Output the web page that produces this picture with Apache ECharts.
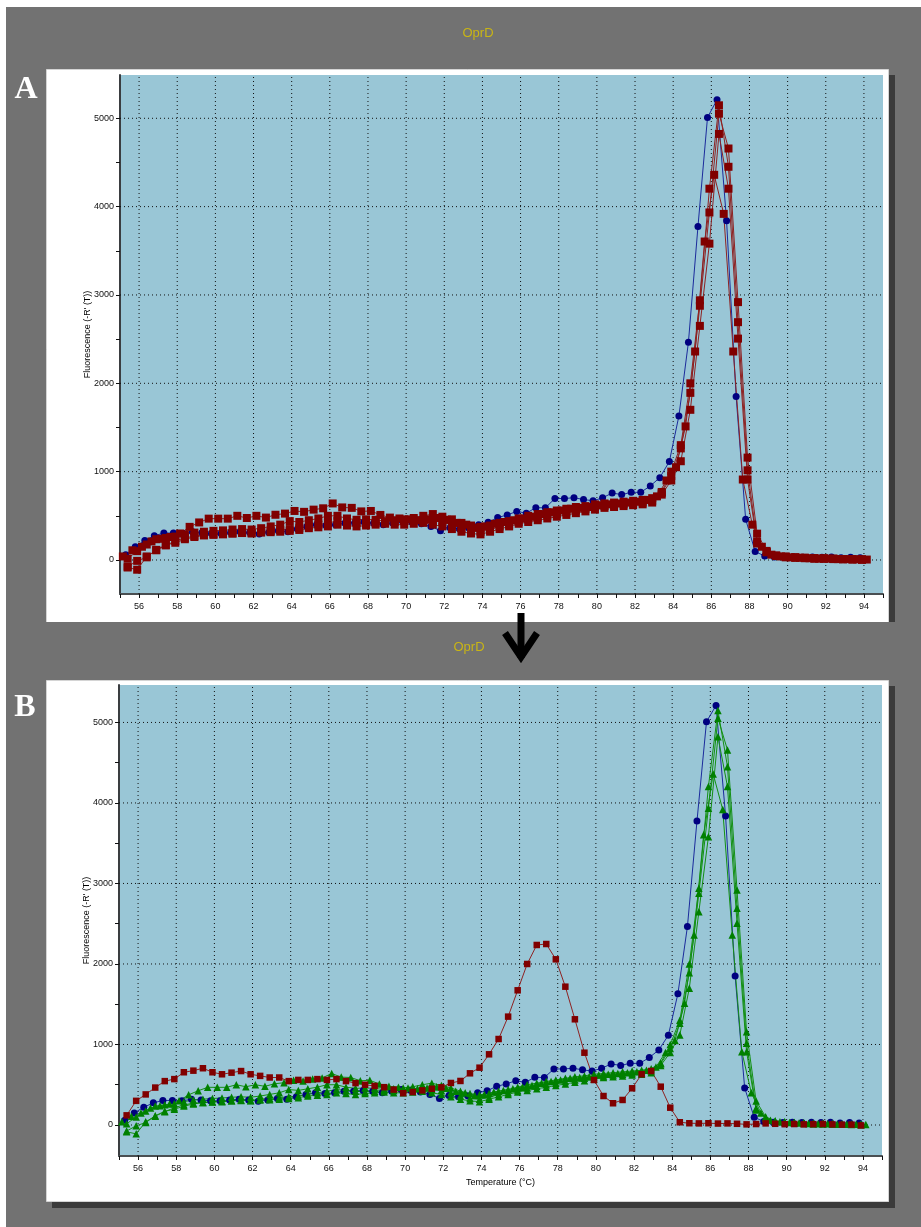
<!DOCTYPE html>
<html>
<head>
<meta charset="utf-8">
<script src="https://cdn.jsdelivr.net/npm/echarts@6/dist/echarts.min.js"></script>
<style>
  html, body { margin: 0; padding: 0; background: #727272; }
  #c { width: 921px; height: 1227px; }
</style>
</head>
<body>
<div id="c"></div>
<script>
// Melt-curve temperature readings (°C) for the three well groups
const tempsP = [55.3,55.8,56.3,56.8,57.3,57.8,58.3,58.8,59.3,59.8,
  60.3,60.8,61.3,61.8,62.3,62.8,63.3,63.8,64.3,64.8,
  65.3,65.8,66.3,66.8,67.3,67.8,68.3,68.8,69.3,69.8,
  70.3,70.8,71.3,71.8,72.3,72.8,73.3,73.8,74.3,74.8,
  75.3,75.8,76.3,76.8,77.3,77.8,78.3,78.8,79.3,79.8,
  80.3,80.8,81.3,81.8,82.3,82.8,83.3,83.8,84.3,84.8,
  85.3,85.8,86.3,86.8,87.3,87.8,88.3,88.8,89.3,89.8,
  90.3,90.8,91.3,91.8,92.3,92.8,93.3,93.8];
const tempsR = [55.4,55.9,56.4,56.9,57.4,57.9,58.4,58.9,59.4,59.9,
  60.4,60.9,61.4,61.9,62.4,62.9,63.4,63.9,64.4,64.9,
  65.4,65.9,66.4,66.9,67.4,67.9,68.4,68.9,69.4,69.9,
  70.4,70.9,71.4,71.9,72.4,72.9,73.4,73.9,74.4,74.9,
  75.4,75.9,76.4,76.9,77.4,77.9,78.4,78.9,79.4,79.9,
  80.4,80.9,81.4,81.9,82.4,82.9,83.4,83.9,84.4,84.9,
  85.4,85.9,86.4,86.9,87.4,87.9,88.4,88.9,89.4,89.9,
  90.4,90.9,91.4,91.9,92.4,92.9,93.4,93.9];
const tempsQ = [55.15,55.65,56.15,56.65,57.15,57.65,58.15,58.65,59.15,59.65,
  60.15,60.65,61.15,61.65,62.15,62.65,63.15,63.65,64.15,64.65,
  65.15,65.65,66.15,66.65,67.15,67.65,68.15,68.65,69.15,69.65,
  70.15,70.65,71.15,71.65,72.15,72.65,73.15,73.65,74.15,74.65,
  75.15,75.65,76.15,76.65,77.15,77.65,78.15,78.65,79.15,79.65,
  80.15,80.65,81.15,81.65,82.15,82.65,83.15,83.65,84.15,84.65,
  85.15,85.65,86.15,86.65,87.15,87.65,88.15,88.65,89.15,89.65,
  90.15,90.65,91.15,91.65,92.15,92.65,93.15,93.65,94.15];

// Fluorescence -R'(T): reference well (blue)
const refWell = [60,150,220,275,305,305,300,320,310,300,
  300,310,320,310,295,310,330,320,350,380,
  400,390,400,420,420,430,420,400,420,440,
  430,410,380,330,365,350,360,400,426,480,
  510,550,530,592,590,696,696,705,685,670,
  704,758,740,766,766,838,932,1115,1630,2465,
  3776,5010,5210,3839,1851,460,95,45,35,30,
  35,30,35,30,35,25,30,25];

// Sample replicates (tempsQ for rep1, tempsR for rep2..rep4)
const rep1 = [40,110,150,210,240,260,300,375,425,468,
  468,468,500,475,500,480,512,525,555,545,
  570,585,640,595,590,550,555,510,480,470,
  460,450,460,475,455,420,400,365,380,410,
  430,450,470,490,520,540,560,580,590,600,
  620,630,640,650,660,680,720,900,1050,1512,
  2360,3605,4360,3918,2360,911,400,150,60,40,
  30,25,20,15,15,10,10,8,5];
const rep2 = [15,100,175,235,250,265,290,310,320,330,
  335,345,350,345,360,380,400,440,430,450,
  470,500,500,470,455,460,455,440,450,460,
  475,500,520,490,460,420,390,375,390,420,
  440,470,500,520,540,560,580,600,610,630,
  640,650,660,670,680,700,770,1000,1300,2000,
  2940,4203,5147,4451,2692,1015,207,90,50,40,
  30,25,20,20,15,10,10,5];
const rep3 = [-75,-10,30,115,170,195,235,260,280,290,
  295,300,310,305,320,330,340,350,360,380,
  400,420,440,430,420,410,420,430,430,440,
  445,450,440,430,400,360,330,320,340,380,
  400,430,460,480,500,520,540,560,580,600,
  610,620,630,640,650,670,760,950,1263,1892,
  2878,3934,5052,4658,2919,1159,298,103,50,35,
  30,25,20,15,15,10,8,5];
const rep4 = [-85,-110,40,110,165,215,250,270,280,285,
  290,300,305,300,310,315,320,330,340,360,
  370,380,400,390,380,390,400,410,400,400,
  410,420,400,380,350,320,300,290,320,350,
  380,410,430,450,470,490,510,530,550,570,
  590,600,610,620,630,650,740,900,1118,1700,
  2650,3581,4823,4203,2506,911,186,87,45,30,
  25,20,15,15,10,8,5,5];

// No-template / primer-dimer well (red, lower panel)
const dimerWell = [120,300,380,465,545,570,655,675,705,655,
  630,650,670,630,610,590,590,545,560,560,
  570,560,570,545,520,500,485,470,440,395,
  410,430,450,468,522,547,642,712,878,1068,
  1346,1673,2000,2236,2248,2058,1718,1313,898,559,
  360,270,311,456,630,671,476,215,34,22,
  20,22,18,20,15,8,12,20,15,10,
  12,8,10,12,8,5,5,-5];

// Axis ticks, labels and grid lines
const xTicks = [55,56,57,58,59,60,61,62,63,64,65,66,67,68,69,70,71,72,73,74,75,
  76,77,78,79,80,81,82,83,84,85,86,87,88,89,90,91,92,93,94,95];
const xLabels = [56,58,60,62,64,66,68,70,72,74,76,78,80,82,84,86,88,90,92,94];
const yTicks = [0,500,1000,1500,2000,2500,3000,3500,4000,4500,5000];
const yLabels = [0,1000,2000,3000,4000,5000];
const panelTitle = 'OprD';
const yTitle = "Fluorescence (-R' (T))";
const xTitle = 'Temperature (°C)';

const pairs = (t, v) => t.map((x, i) => [x, v[i]]);

const FONT = '"Liberation Sans", Arial, sans-serif';
const C_BLUE = '#000080', C_BLUE_LINE = '#1b2b9c';
const C_RED = '#800000', C_RED_LINE = '#8e2222';
const C_GREEN = '#008000', C_GREEN_LINE = '#139013';
const Y_MIN = -385;
const Y_MAX = [5490, 5465];

function xAxisFor(gi, withName) {
  return {
    gridIndex: gi, type: 'value', min: 55, max: 95,
    name: withName ? xTitle : '', nameLocation: 'middle', nameGap: 22, nameMoveOverlap: false,
    nameTextStyle: { fontSize: 9, color: '#000', fontFamily: FONT },
    axisLine: { show: true, onZero: false, lineStyle: { color: '#4a4f52', width: 2 } },
    axisTick: { show: true, customValues: xTicks, length: 4, lineStyle: { color: '#111', width: 1 } },
    axisLabel: { show: true, customValues: xLabels, fontSize: 9, color: '#111', margin: 8, fontFamily: FONT,
      formatter: v => String(v) },
    splitLine: { show: false },
    minorSplitLine: { show: false }
  };
}
function yAxisFor(gi) {
  return {
    gridIndex: gi, type: 'value', min: Y_MIN, max: Y_MAX[gi],
    name: yTitle, nameLocation: 'middle', nameRotate: 90, nameGap: 28, nameMoveOverlap: false,
    nameTextStyle: { fontSize: 9, color: '#000', fontFamily: FONT },
    axisLine: { show: true, onZero: false, lineStyle: { color: '#3a3d40', width: 2 } },
    axisTick: { show: true, customValues: yTicks, length: 4, lineStyle: { color: '#111', width: 1 } },
    axisLabel: { show: true, customValues: yLabels, fontSize: 9, color: '#111', margin: 6, fontFamily: FONT,
      formatter: v => String(v) },
    splitLine: { show: false },
    minorSplitLine: { show: false }
  };
}
// dotted grid: one segment per labelled value, placed through the axis scales
function gridLines(gi) {
  const items = [];
  xLabels.forEach(v => items.push([0, v]));
  yLabels.forEach(v => items.push([1, v]));
  return {
    type: 'custom', xAxisIndex: gi, yAxisIndex: gi, silent: true, z: 1, clip: false,
    data: items,
    encode: { x: -1, y: -1 },
    renderItem: (params, api) => {
      const dir = api.value(0), v = api.value(1);
      const a = dir === 0 ? api.coord([v, Y_MIN]) : api.coord([55, v]);
      const b = dir === 0 ? api.coord([v, Y_MAX[gi]]) : api.coord([95, v]);
      return {
        type: 'line',
        shape: { x1: a[0], y1: a[1], x2: b[0], y2: b[1] },
        style: { stroke: '#111', lineWidth: 1, lineDash: [1, 3] }
      };
    }
  };
}
function curve(gi, temps, vals, sym, size, col, lineCol) {
  return {
    type: 'line', xAxisIndex: gi, yAxisIndex: gi,
    data: pairs(temps, vals),
    symbol: sym, symbolSize: size, showAllSymbol: true,
    itemStyle: { color: col },
    lineStyle: { color: lineCol, width: 1 },
    z: 3, silent: true
  };
}

const chart = echarts.init(document.getElementById('c'), null, { renderer: 'canvas' });
chart.setOption({
  animation: false,
  backgroundColor: '#727272',
  grid: [
    { left: 120, top: 75, width: 763, height: 519, show: true, backgroundColor: '#99c6d6', borderWidth: 0, z: 0 },
    { left: 119, top: 685, width: 763, height: 471, show: true, backgroundColor: '#99c6d6', borderWidth: 0, z: 0 }
  ],
  xAxis: [xAxisFor(0, false), xAxisFor(1, true)],
  yAxis: [yAxisFor(0), yAxisFor(1)],
  series: [
    gridLines(0),
    curve(0, tempsP, refWell, 'circle', 7, C_BLUE, C_BLUE_LINE),
    curve(0, tempsQ, rep1, 'rect', 8, C_RED, C_RED_LINE),
    curve(0, tempsR, rep2, 'rect', 8, C_RED, C_RED_LINE),
    curve(0, tempsR, rep3, 'rect', 8, C_RED, C_RED_LINE),
    curve(0, tempsR, rep4, 'rect', 8, C_RED, C_RED_LINE),
    gridLines(1),
    curve(1, tempsP, refWell, 'circle', 7, C_BLUE, C_BLUE_LINE),
    curve(1, tempsQ, rep1, 'triangle', 7.5, C_GREEN, C_GREEN_LINE),
    curve(1, tempsR, rep2, 'triangle', 7.5, C_GREEN, C_GREEN_LINE),
    curve(1, tempsR, rep3, 'triangle', 7.5, C_GREEN, C_GREEN_LINE),
    curve(1, tempsR, rep4, 'triangle', 7.5, C_GREEN, C_GREEN_LINE),
    curve(1, tempsR, dimerWell, 'rect', 6.5, C_RED, C_RED_LINE)
  ],
  graphic: {
    elements: [
      { type: 'rect', z: -10, shape: { x: 0, y: 0, width: 921, height: 7 }, style: { fill: '#ffffff' } },
      { type: 'rect', z: -10, shape: { x: 0, y: 0, width: 6, height: 1227 }, style: { fill: '#ffffff' } },
      // panel A frame and shadow
      { type: 'rect', z: -10, shape: { x: 889, y: 75, width: 6, height: 547 }, style: { fill: '#3b3b3b' } },
      { type: 'rect', z: -9, shape: { x: 46.5, y: 69.5, width: 842, height: 560 }, style: { fill: '#ffffff', stroke: '#d4d4d4', lineWidth: 1 } },
      { type: 'rect', z: -8, shape: { x: 40, y: 622, width: 860, height: 58 }, style: { fill: '#727272' } },
      // panel B frame and shadow
      { type: 'rect', z: -10, shape: { x: 889, y: 686, width: 6, height: 522 }, style: { fill: '#3b3b3b' } },
      { type: 'rect', z: -10, shape: { x: 52, y: 1202, width: 843, height: 6 }, style: { fill: '#3b3b3b' } },
      { type: 'rect', z: -9, shape: { x: 46.5, y: 680.5, width: 842, height: 521 }, style: { fill: '#ffffff', stroke: '#d4d4d4', lineWidth: 1 } },
      // titles
      { type: 'text', z: 50, x: 478, y: 33, style: { text: panelTitle, fill: '#c9b515', font: '13px ' + FONT, textAlign: 'center', textVerticalAlign: 'middle' } },
      { type: 'text', z: 50, x: 469, y: 647, style: { text: panelTitle, fill: '#c9b515', font: '13px ' + FONT, textAlign: 'center', textVerticalAlign: 'middle' } },
      // panel letters
      { type: 'text', z: 50, x: 26, y: 90, style: { text: 'A', fill: '#ffffff', font: 'bold 32px "Liberation Serif", "Times New Roman", serif', textAlign: 'center', textVerticalAlign: 'middle' } },
      { type: 'text', z: 50, x: 25, y: 708, style: { text: 'B', fill: '#ffffff', font: 'bold 32px "Liberation Serif", "Times New Roman", serif', textAlign: 'center', textVerticalAlign: 'middle' } },
      // down arrow between the panels
      { type: 'line', z: 60, shape: { x1: 521, y1: 613, x2: 521, y2: 658 }, style: { stroke: '#000', lineWidth: 7 } },
      { type: 'polyline', z: 60, shape: { points: [[505, 633], [521, 657], [537, 633]] }, style: { stroke: '#000', lineWidth: 7, lineJoin: 'miter', fill: null } }
    ]
  }
});
</script>
</body>
</html>
